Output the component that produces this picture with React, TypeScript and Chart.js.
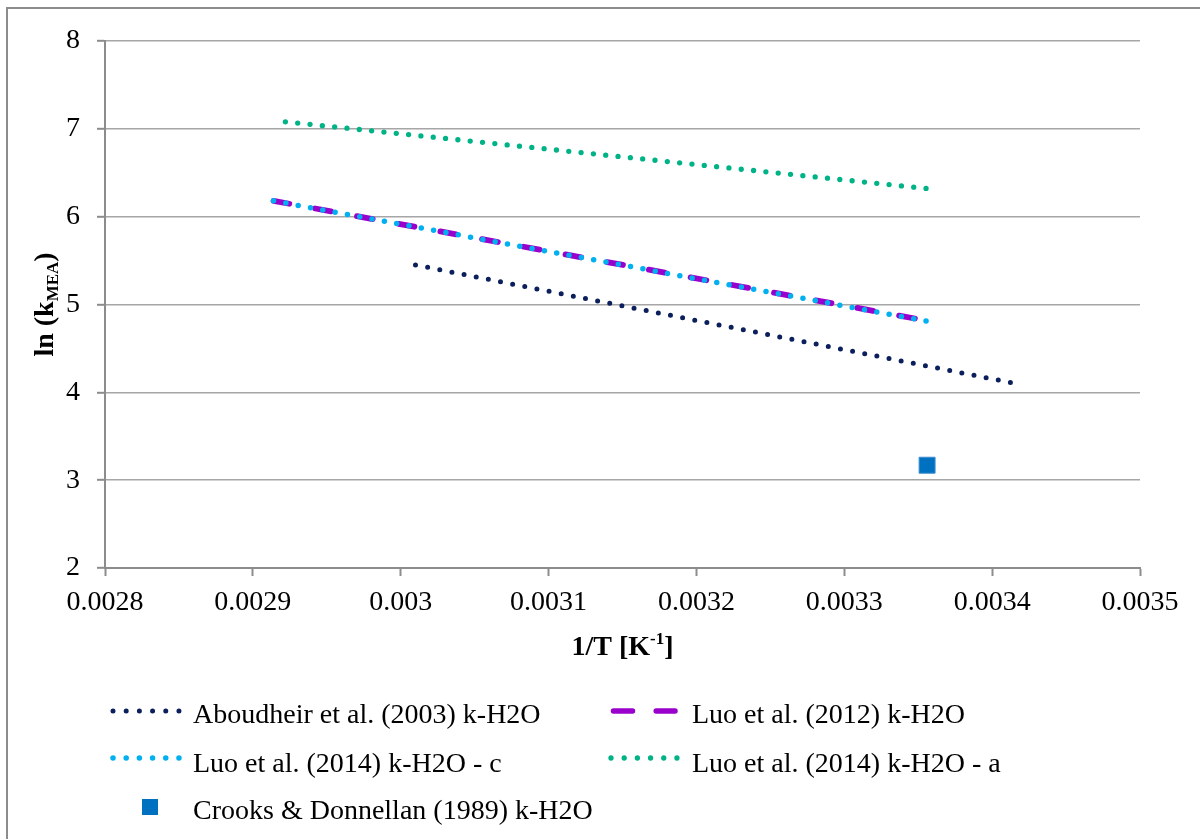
import React, { useEffect, useRef } from "react";
import { Chart, registerables } from "chart.js";

Chart.register(...registerables);

// Axis ticks
const xTicks = [0.0028, 0.0029, 0.003, 0.0031, 0.0032, 0.0033, 0.0034, 0.0035];
const yTicks = [2, 3, 4, 5, 6, 7, 8];

// Arrhenius lines: 1/T [1/K] vs ln(k)
const aboudheirX = [0.00301, 0.003413];
const aboudheirY = [5.45, 4.11];

const luo2012X = [0.002914, 0.003356];
const luo2012Y = [6.18, 4.815];

const luo2014cX = [0.002914, 0.003356];
const luo2014cY = [6.18, 4.81];

const luo2014aX = [0.002922, 0.003356];
const luo2014aY = [7.08, 6.32];

const crooksX = [0.003356];
const crooksY = [3.17];

const seriesNames = [
  "Aboudheir et al. (2003) k-H2O",
  "Luo et al. (2012) k-H2O",
  "Luo et al. (2014) k-H2O - c",
  "Luo et al. (2014) k-H2O - a",
  "Crooks & Donnellan (1989) k-H2O",
];

const NAVY = "#0B1F5C";
const PURPLE = "#9900CC";
const CYAN = "#00B0F0";
const GREEN = "#00B386";
const BLUE = "#0070C0";

const FONT = '"Liberation Serif", "Times New Roman", serif';

const pts = (xs: number[], ys: number[]) => xs.map((x, i) => ({ x, y: ys[i] }));

// Round-dot pattern whose spacing is stretched so a dot lands on both ends of the line
const fitDots = (spacing: number) => (ctx: any) => {
  const chart = ctx.chart;
  const xs = chart && chart.scales && chart.scales.x;
  const ys = chart && chart.scales && chart.scales.y;
  const data = ctx.dataset && ctx.dataset.data;
  if (!xs || !ys || !data || data.length < 2) return [0, spacing];
  let len = 0;
  for (let i = 1; i < data.length; i++) {
    const dx = xs.getPixelForValue(data[i].x) - xs.getPixelForValue(data[i - 1].x);
    const dy = ys.getPixelForValue(data[i].y) - ys.getPixelForValue(data[i - 1].y);
    len += Math.hypot(dx, dy);
  }
  if (!isFinite(len) || len <= 0) return [0, spacing];
  const n = Math.max(1, Math.round(len / spacing));
  return [0, len / n - 0.02];
};

function sampleLine(
  ctx: CanvasRenderingContext2D,
  x1: number,
  x2: number,
  y: number,
  color: string,
  width: number,
  dash: number[]
) {
  ctx.save();
  ctx.strokeStyle = color;
  ctx.lineWidth = width;
  ctx.lineCap = "round";
  ctx.setLineDash(dash);
  ctx.beginPath();
  ctx.moveTo(x1, y);
  ctx.lineTo(x2, y);
  ctx.stroke();
  ctx.restore();
}

const framePlugin = {
  id: "frame",
  beforeDraw(chart: any) {
    const ctx = chart.ctx as CanvasRenderingContext2D;
    ctx.save();
    ctx.fillStyle = "#ffffff";
    ctx.fillRect(0, 0, chart.width, chart.height);
    ctx.strokeStyle = "#8C8C8C";
    ctx.lineWidth = 2;
    ctx.beginPath();
    ctx.moveTo(7, chart.height);
    ctx.lineTo(7, 8);
    ctx.lineTo(chart.width, 8);
    ctx.stroke();
    ctx.restore();
  },
  afterDraw(chart: any) {
    const ctx = chart.ctx as CanvasRenderingContext2D;
    ctx.save();
    ctx.fillStyle = "#000000";
    ctx.textBaseline = "alphabetic";
    ctx.textAlign = "left";

    // x-axis title: 1/T [K^-1]
    const big = `bold 28px ${FONT}`;
    const small = `bold 17px ${FONT}`;
    ctx.font = big;
    const xa = "1/T [K";
    const xc = "]";
    const wa = ctx.measureText(xa).width;
    const wc = ctx.measureText(xc).width;
    ctx.font = small;
    const xb = "-1";
    const wb = ctx.measureText(xb).width;
    const xw = wa + wb + wc;
    const xx = chart.chartArea.left + (chart.chartArea.right - chart.chartArea.left) / 2 - xw / 2;
    const xy = 655;
    ctx.font = big;
    ctx.fillText(xa, xx, xy);
    ctx.font = small;
    ctx.fillText(xb, xx + wa, xy - 11);
    ctx.font = big;
    ctx.fillText(xc, xx + wa + wb, xy);

    // y-axis title: ln (k_MEA)
    ctx.save();
    const cy = (chart.chartArea.top + chart.chartArea.bottom) / 2;
    ctx.translate(53, cy);
    ctx.rotate(-Math.PI / 2);
    ctx.font = big;
    const ya = "ln (k";
    const yc = ")";
    const ywa = ctx.measureText(ya).width;
    const ywc = ctx.measureText(yc).width;
    ctx.font = small;
    const yb = "MEA";
    const ywb = ctx.measureText(yb).width;
    const yw = ywa + ywb + ywc;
    const y0 = -yw / 2;
    ctx.font = big;
    ctx.fillText(ya, y0, 0);
    ctx.font = small;
    ctx.fillText(yb, y0 + ywa, 5);
    ctx.font = big;
    ctx.fillText(yc, y0 + ywa + ywb, 0);
    ctx.restore();

    // legend
    const col1Sample = 113;
    const col1Text = 193;
    const col2Sample = 611;
    const col2Text = 692;
    const rows = [711, 758, 807];
    const base = [723, 772, 819];
    ctx.font = `28px ${FONT}`;

    sampleLine(ctx, col1Sample, col1Sample + 66, rows[0], NAVY, 5, [0, 13.19]);
    ctx.fillText(seriesNames[0], col1Text, base[0]);

    sampleLine(ctx, col2Sample + 2.5, col2Sample + 64, rows[0], PURPLE, 5.5, [19, 23.7]);
    ctx.fillText(seriesNames[1], col2Text, base[0]);

    sampleLine(ctx, col1Sample, col1Sample + 66, rows[1], CYAN, 5.5, [0, 13.19]);
    ctx.fillText(seriesNames[2], col1Text, base[1]);

    sampleLine(ctx, col2Sample, col2Sample + 66, rows[1], GREEN, 5.3, [0, 13.19]);
    ctx.fillText(seriesNames[3], col2Text, base[1]);

    ctx.fillStyle = BLUE;
    ctx.fillRect(142, rows[2] - 8, 16, 16);
    ctx.fillStyle = "#000000";
    ctx.fillText(seriesNames[4], col1Text, base[2]);

    ctx.restore();
  },
};

export default function App() {
  const canvasRef = useRef<HTMLCanvasElement | null>(null);

  useEffect(() => {
    if (!canvasRef.current) return;
    const chart = new Chart(canvasRef.current, {
      type: "scatter",
      data: {
        datasets: [
          {
            label: seriesNames[0],
            data: pts(aboudheirX, aboudheirY),
            showLine: true,
            borderColor: NAVY,
            borderWidth: 5,
            borderDash: fitDots(12.4),
            borderCapStyle: "round",
            pointRadius: 0,
            order: 3,
          },
          {
            label: seriesNames[1],
            data: pts(luo2012X, luo2012Y),
            showLine: true,
            borderColor: PURPLE,
            borderWidth: 5.8,
            borderDash: [16, 26.4],
            borderCapStyle: "round",
            pointRadius: 0,
            order: 2,
          },
          {
            label: seriesNames[2],
            data: pts(luo2014cX, luo2014cY),
            showLine: true,
            borderColor: CYAN,
            borderWidth: 5.5,
            borderDash: fitDots(12.5),
            borderCapStyle: "round",
            pointRadius: 0,
            order: 1,
          },
          {
            label: seriesNames[3],
            data: pts(luo2014aX, luo2014aY),
            showLine: true,
            borderColor: GREEN,
            borderWidth: 5.3,
            borderDash: fitDots(12.5),
            borderCapStyle: "round",
            pointRadius: 0,
            order: 4,
          },
          {
            label: seriesNames[4],
            data: pts(crooksX, crooksY),
            showLine: false,
            pointStyle: "rect",
            pointRadius: 11.3,
            pointBackgroundColor: BLUE,
            pointBorderColor: "#3D8FD0",
            pointBorderWidth: 1,
            order: 0,
          },
        ],
      },
      options: {
        responsive: false,
        animation: false,
        devicePixelRatio: 1,
        layout: { padding: { top: 41, right: 60, bottom: 0, left: 0 } },
        plugins: {
          legend: { display: false },
          tooltip: { enabled: false },
          title: { display: false },
        },
        scales: {
          x: {
            type: "linear",
            min: xTicks[0],
            max: xTicks[xTicks.length - 1],
            afterBuildTicks: (scale: any) => {
              scale.ticks = xTicks.map((v) => ({ value: v }));
            },
            afterFit: (scale: any) => {
              scale.height = 271;
            },
            grid: {
              drawOnChartArea: false,
              drawTicks: true,
              tickLength: 8,
              tickColor: "#8C8C8C",
              tickWidth: 2,
            },
            border: { color: "#8C8C8C", width: 2 },
            ticks: {
              padding: 10,
              color: "#000000",
              font: { family: FONT, size: 28 },
              maxRotation: 0,
              autoSkip: false,
              callback: (v: any) => String(Number(Number(v).toFixed(4))),
            },
          },
          y: {
            type: "linear",
            min: yTicks[0],
            max: yTicks[yTicks.length - 1],
            afterBuildTicks: (scale: any) => {
              scale.ticks = yTicks.map((v) => ({ value: v }));
            },
            afterFit: (scale: any) => {
              scale.width = 105;
            },
            grid: {
              color: "#A6A6A6",
              lineWidth: 1.6,
              drawTicks: true,
              tickLength: 8,
              tickColor: "#8C8C8C",
              tickWidth: 2,
            },
            border: { color: "#8C8C8C", width: 2 },
            ticks: {
              padding: 17,
              color: "#000000",
              font: { family: FONT, size: 28 },
              autoSkip: false,
              callback: (v: any) => String(v),
            },
          },
        },
      },
      plugins: [framePlugin],
    } as any);
    return () => chart.destroy();
  }, []);

  return (
    <div style={{ position: "absolute", left: 0, top: 0, width: 1200, height: 839 }}>
      <canvas ref={canvasRef} width={1200} height={839} style={{ display: "block" }} />
    </div>
  );
}
